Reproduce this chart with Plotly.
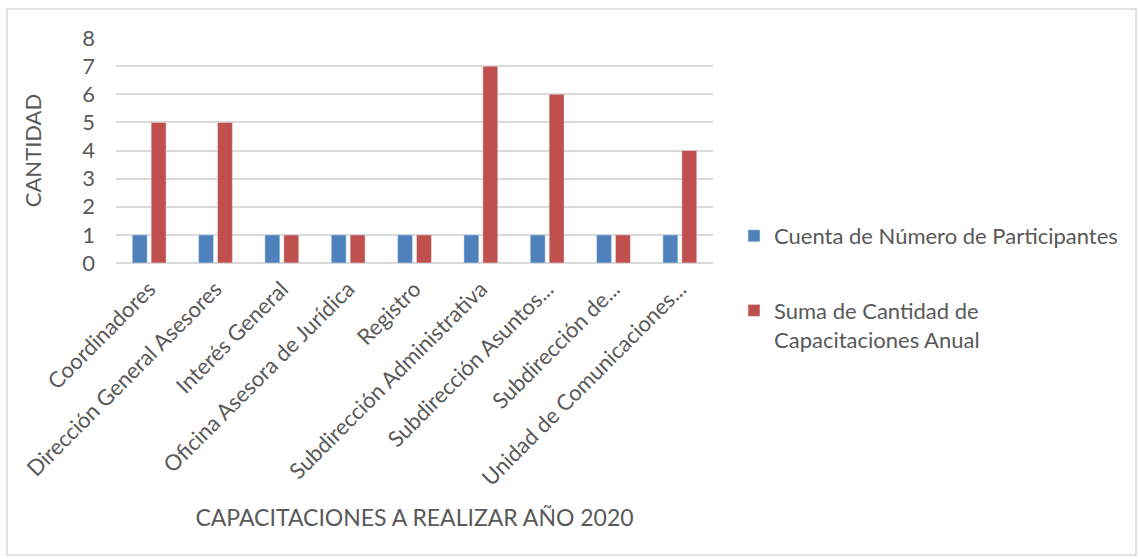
import plotly.graph_objects as go

categories = ["Coordinadores", "Dirección General Asesores", "Interés General",
              "Oficina Asesora de Jurídica", "Registro", "Subdirección Administrativa",
              "Subdirección Asuntos...", "Subdirección de...", "Unidad de Comunicaciones..."]
participantes = [1, 1, 1, 1, 1, 1, 1, 1, 1]
capacitaciones = [5, 5, 1, 1, 1, 7, 6, 1, 4]
y_ticks = [0, 1, 2, 3, 4, 5, 6, 7, 8]

FONT = "Lato, 'Open Sans', sans-serif"
TXT = "#595959"

fig = go.Figure()
fig.add_trace(go.Bar(x=categories, y=participantes, name="Cuenta de Número de Participantes",
                     marker=dict(color="#4F81BD"), legendgroup="a"))
fig.add_trace(go.Bar(x=categories, y=capacitaciones, name="Suma de Cantidad de<br>Capacitaciones Anual",
                     marker=dict(color="#C0504D"), legendgroup="b"))

L, R, T, B = 116, 713, 38, 263
W, H = 1138, 559
pw, ph = R - L, B - T

def px(x):
    return (x - L) / pw

def py(y):
    return (B - y) / ph

fig.update_layout(
    width=W, height=H,
    margin=dict(l=L, r=W - R, t=T, b=H - B, autoexpand=False),
    paper_bgcolor="white", plot_bgcolor="white",
    barmode="group", bargap=0.43, bargroupgap=0.21,
    font=dict(family=FONT, color=TXT, size=22),
    showlegend=True,
    legend=dict(x=px(734), y=py(215), xanchor="left", yanchor="top",
                font=dict(size=22, color=TXT, family=FONT), valign="top",
                tracegroupgap=43, itemwidth=30, bgcolor="rgba(0,0,0,0)"),
    xaxis=dict(tickangle=-45, showgrid=False, showline=False, ticks="",
               ticklabelstandoff=8,
               tickfont=dict(size=22, color=TXT, family=FONT),
               title=dict(text="CAPACITACIONES A REALIZAR AÑO 2020",
                          font=dict(size=23, color=TXT, family=FONT), standoff=20)),
    yaxis=dict(range=[0, 8], tickvals=y_ticks, showgrid=True, gridcolor="#D9D9D9",
               gridwidth=1.5, zeroline=True, zerolinecolor="#D9D9D9", zerolinewidth=1.5,
               showline=False, ticks="", ticklabelstandoff=20,
               tickfont=dict(size=22, color=TXT, family=FONT),
               title=dict(text="CANTIDAD", font=dict(size=22, color=TXT, family=FONT), standoff=34)),
    shapes=[dict(type="rect", xref="paper", yref="paper",
                 x0=px(7), x1=px(1136), y0=py(555), y1=py(9),
                 line=dict(color="#D9D9D9", width=1.5), layer="below")],
)

fig.write_html("out.html", config={"displayModeBar": False},
               post_script="document.body.style.margin='0';")
